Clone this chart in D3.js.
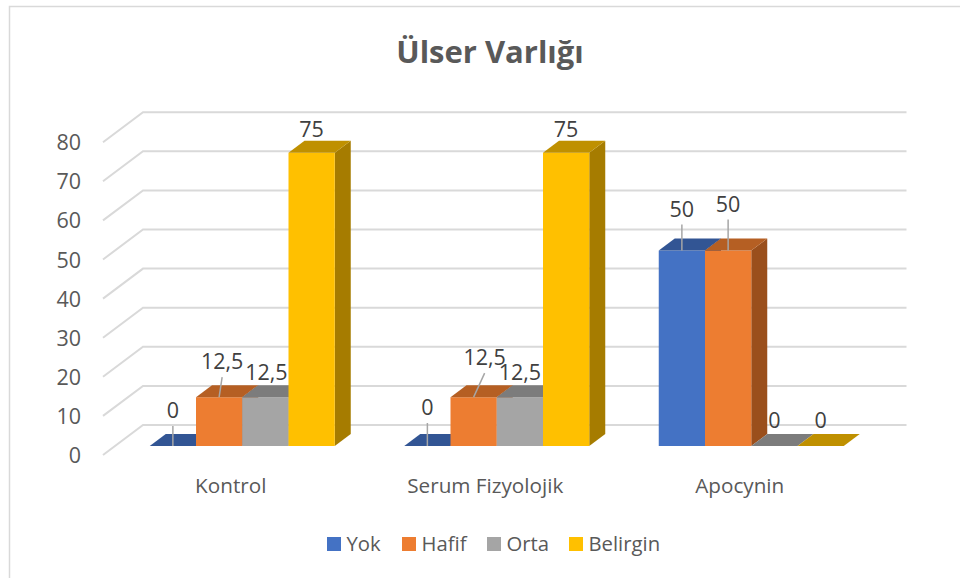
<!DOCTYPE html>
<html><head><meta charset="utf-8">
<script src="https://cdn.jsdelivr.net/npm/d3@7/dist/d3.min.js"></script>
<style>html,body{margin:0;padding:0;background:#fff}svg{display:block}text{font-family:"Open Sans",sans-serif}</style>
</head><body><svg id="c" width="960" height="578"></svg>
<script>
const title = "Ülser Varlığı";
const categories = ["Kontrol", "Serum Fizyolojik", "Apocynin"];
const seriesNames = ["Yok", "Hafif", "Orta", "Belirgin"];
const yok = [0, 0, 50];
const hafif = [12.5, 12.5, 50];
const orta = [12.5, 12.5, 0];
const belirgin = [75, 75, 0];
const yTicks = [0, 10, 20, 30, 40, 50, 60, 70, 80];
const labelText = v => String(v).replace(".", ",");

const seriesValues = [yok, hafif, orta, belirgin];
const faceColors = ["#4472C4", "#ED7D31", "#A5A5A5", "#FFC000"];
const topColors = ["#325594", "#B55F23", "#7C7C7C", "#BF9000"];
const sideColors = ["#2A4A80", "#9A4F1C", "#6B6B6B", "#A67C00"];

// label displacement from bar's front-top centre: [dx, dy, leader?] by series then category
const labelShift = [
  [[0, -36, 1], [0, -39, 1], [0, -42, 1]],
  [[3, -36, 1], [11, -40, 1], [0, -47, 1]],
  [[1, -25, 0], [0, -25, 0], [0, -26, 0]],
  [[0, -24, 0], [0, -24, 0], [0, -26, 0]]
];

const svg = d3.select("#c");
const x0 = d3.scaleBand().domain(categories).range([103, 866.5]).paddingInner(0).paddingOuter(0);
const groupW = 185;
const xs = d3.scaleBand().domain(seriesNames).range([0, groupW]);
const y = d3.scaleLinear().domain([0, 80]).range([455, 142.2]);
const wallDX = 40, wallDY = -30;
const barFrontD = 0.3, barBackD = 0.7;
const proj = (xv, v, d) => [xv + wallDX * d, y(v) + wallDY * d];

// frame
svg.append("path").attr("d", "M9.5,578V6.5H960").attr("fill", "none").attr("stroke", "#D9D9D9").attr("stroke-width", 1.5);

// gridlines
const xLeft = x0.range()[0], xRight = x0.range()[1];
svg.append("g").selectAll("path").data(yTicks).join("path")
  .attr("d", t => d3.line()([proj(xLeft, t, 0), proj(xLeft, t, 1), proj(xRight, t, 1)]))
  .attr("fill", "none").attr("stroke", "#D9D9D9").attr("stroke-width", 2);

// y axis labels
svg.append("g").selectAll("text").data(yTicks).join("text")
  .attr("x", 81).attr("y", t => y(t) + 0.5).attr("dy", "0.35em")
  .attr("text-anchor", "end").attr("font-size", 21.5).attr("fill", "#595959").text(t => t);

// category labels
svg.append("g").selectAll("text").data(categories).join("text")
  .attr("x", c => x0(c) + x0.bandwidth() / 2 + 0.5).attr("y", 486).attr("dy", "0.35em")
  .attr("text-anchor", "middle").attr("font-size", 20.7).attr("fill", "#595959").text(c => c);

// bars
const poly = pts => "M" + pts.map(p => p.join(",")).join("L") + "Z";
const barsG = svg.append("g"), leadG = svg.append("g"), lblG = svg.append("g");
categories.forEach((c, ci) => {
  const gx = x0(c) + (x0.bandwidth() - groupW) / 2;
  seriesNames.forEach((s, si) => {
    const v = seriesValues[si][ci];
    const l = gx + xs(s), r = l + xs.bandwidth();
    const g = barsG.append("g");
    if (v > 0) {
      g.append("path").attr("fill", sideColors[si]).attr("d", poly([proj(r,0,barFrontD),proj(r,v,barFrontD),proj(r,v,barBackD),proj(r,0,barBackD)]));
      g.append("path").attr("fill", faceColors[si]).attr("d", poly([proj(l,0,barFrontD),proj(l,v,barFrontD),proj(r,v,barFrontD),proj(r,0,barFrontD)]));
    }
    g.append("path").attr("fill", topColors[si]).attr("d", poly([proj(l,v,barFrontD),proj(l,v,barBackD),proj(r,v,barBackD),proj(r,v,barFrontD)]));
    const [fx, fy] = proj((l + r) / 2, v, barFrontD);
    const [dx, dy, leader] = labelShift[si][ci];
    if (leader) {
      leadG.append("line").attr("x1", fx).attr("y1", fy).attr("x2", fx + dx).attr("y2", fy + dy + 16)
        .attr("stroke", "#A6A6A6").attr("stroke-width", 1.5);
    }
    lblG.append("text").attr("x", fx + dx).attr("y", fy + dy + 0.5).attr("dy", "0.35em")
      .attr("text-anchor", "middle").attr("font-size", 21.5).attr("fill", "#404040").text(labelText(v));
  });
});

// title
svg.append("text").attr("x", 490).attr("y", 52).attr("dy", "0.35em").attr("text-anchor", "middle")
  .attr("font-size", 31).attr("font-weight", 700).attr("fill", "#595959").text(title);

// legend
const legendStarts = [327, 402, 487, 569];
const lg = svg.append("g").selectAll("g").data(seriesNames).join("g")
  .attr("transform", (s, i) => `translate(${legendStarts[i]},537)`);
lg.append("rect").attr("width", 14).attr("height", 14).attr("fill", (s, i) => faceColors[i]);
lg.append("text").attr("x", 19.5).attr("y", 7).attr("dy", "0.35em").attr("font-size", 20.3).attr("fill", "#595959").text(s => s);
</script></body></html>
